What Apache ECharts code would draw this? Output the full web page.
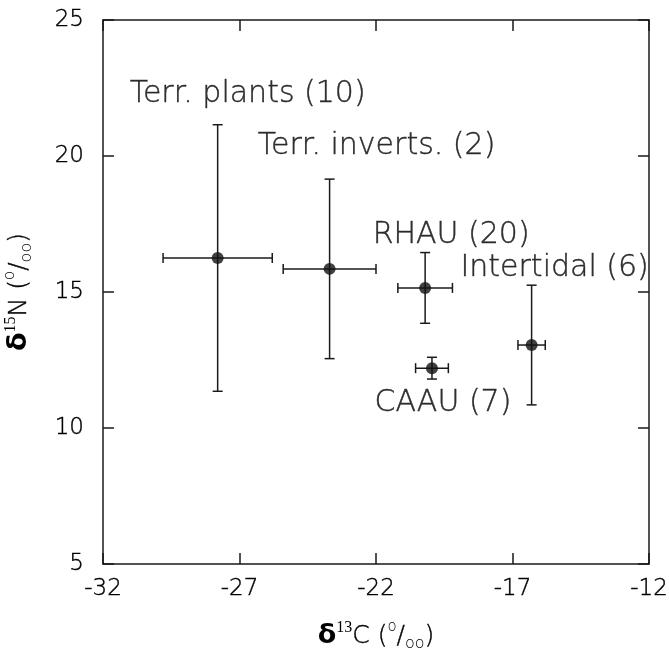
<!DOCTYPE html>
<html>
<head>
<meta charset="utf-8">
<script src="https://cdn.jsdelivr.net/npm/echarts@6/dist/echarts.min.js"></script>
<style>
  html, body { margin: 0; padding: 0; background: #fff; }
  #chart { width: 669px; height: 652px; }
</style>
</head>
<body>
<div id="chart"></div>
<script>
var groups = ['Terr. plants (10)', 'Terr. inverts. (2)', 'RHAU (20)', 'Intertidal (6)', 'CAAU (7)'];
var d13C = [-27.8, -23.7, -20.2, -16.3, -19.95];
var d13Csd = [2.0, 1.7, 1.0, 0.5, 0.6];
var d15N = [16.25, 15.85, 15.15, 13.05, 12.2];
var d15Nsd = [4.9, 3.3, 1.3, 2.2, 0.4];
var xTicks = [-32, -27, -22, -17, -12];
var yTicks = [5, 10, 15, 20, 25];

// label placement relative to each dot (px)
var labelOffset = [[30, -164], [47, -123], [26, -53], [23, -77], [11, 35]];

var ink = '#000';
var font = 'DejaVu Sans';

var chart = echarts.init(document.getElementById('chart'));

var barData = d13C.map(function (x, i) { return [x, d15N[i], d13Csd[i], d15Nsd[i]]; });
var dotData = d13C.map(function (x, i) {
    return {
        value: [x, d15N[i]],
        label: { offset: labelOffset[i] }
    };
});

var frameAxis = {
    min: 0, max: 0, interval: 5,
    axisLine: { show: true, onZero: false, lineStyle: { color: '#1a1a1a', width: 1.5 } },
    axisTick: { show: true, inside: true, length: 11, lineStyle: { color: '#1a1a1a', width: 1.5 } },
    splitLine: { show: false }
};

function axisOf(ticks, extra) {
    var a = echarts.util.merge({}, frameAxis, true);
    a.min = ticks[0];
    a.max = ticks[ticks.length - 1];
    return echarts.util.merge(a, extra, true);
}

var labelStyle = {
    color: ink, fontFamily: font, fontSize: 23, fontWeight: 200,
    textBorderColor: ink, textBorderWidth: 0.4
};

function titleRich() {
    return {
        d: { fontFamily: font, fontSize: 27, fontWeight: 'bold', color: ink, lineHeight: 32 },
        s: { fontFamily: 'Liberation Serif', fontSize: 16, color: ink, verticalAlign: 'top', lineHeight: 32 },
        n: { fontFamily: font, fontSize: 25, fontWeight: 200, color: ink, lineHeight: 32, textBorderColor: ink, textBorderWidth: 0.4 },
        o: { fontFamily: font, fontSize: 15, fontWeight: 200, color: ink, verticalAlign: 'top', lineHeight: 32 },
        u: { fontFamily: font, fontSize: 16, fontWeight: 200, color: ink, verticalAlign: 'bottom', lineHeight: 30 }
    };
}

var option = {
    backgroundColor: '#fff',
    animation: false,
    grid: { left: 103, right: 20, top: 20, bottom: 88, outerBoundsMode: 'none', containLabel: false },
    xAxis: [
        axisOf(xTicks, {
            type: 'value', position: 'bottom',
            axisLabel: echarts.util.extend({ margin: 14 }, labelStyle),
            name: '{d|δ}{s|13}{n|C (}{o|o}{n|/}{u|oo}{n|)}',
            nameLocation: 'middle', nameGap: 56,
            nameTextStyle: { rich: titleRich() }
        }),
        axisOf(xTicks, { type: 'value', position: 'top', axisLabel: { show: false } })
    ],
    yAxis: [
        axisOf(yTicks, {
            type: 'value', position: 'left',
            axisLabel: echarts.util.extend({ margin: 19 }, labelStyle),
            name: '{d|δ}{s|15}{n|N (}{o|o}{n|/}{u|oo}{n|)}',
            nameLocation: 'middle', nameGap: 68, nameRotate: 90,
            nameTextStyle: { rich: titleRich() }
        }),
        axisOf(yTicks, { type: 'value', position: 'right', axisLabel: { show: false } })
    ],
    series: [
        {
            type: 'custom',
            data: barData,
            z: 2,
            renderItem: function (params, api) {
                var x = api.value(0), y = api.value(1), sx = api.value(2), sy = api.value(3);
                var l = api.coord([x - sx, y]);
                var r = api.coord([x + sx, y]);
                var t = api.coord([x, y + sy]);
                var b = api.coord([x, y - sy]);
                var cap = 5;
                var st = { stroke: '#1a1a1a', lineWidth: 1.5 };
                function line(x1, y1, x2, y2) {
                    return { type: 'line', shape: { x1: x1, y1: y1, x2: x2, y2: y2 }, style: st };
                }
                return {
                    type: 'group',
                    children: [
                        line(l[0], l[1], r[0], r[1]),
                        line(t[0], t[1], b[0], b[1]),
                        line(l[0], l[1] - cap, l[0], l[1] + cap),
                        line(r[0], r[1] - cap, r[0], r[1] + cap),
                        line(t[0] - cap, t[1], t[0] + cap, t[1]),
                        line(b[0] - cap, b[1], b[0] + cap, b[1])
                    ]
                };
            }
        },
        {
            type: 'scatter',
            data: dotData,
            z: 3,
            symbolSize: 12,
            itemStyle: { color: '#111' },
            label: {
                show: true,
                position: 'inside',
                align: 'center',
                verticalAlign: 'middle',
                color: ink,
                fontFamily: font,
                fontSize: 30,
                fontWeight: 200,
                textBorderColor: ink,
                textBorderWidth: 0.4,
                formatter: function (p) { return groups[p.dataIndex]; }
            },
            emphasis: { disabled: true }
        }
    ]
};
chart.setOption(option);
</script>
</body>
</html>
